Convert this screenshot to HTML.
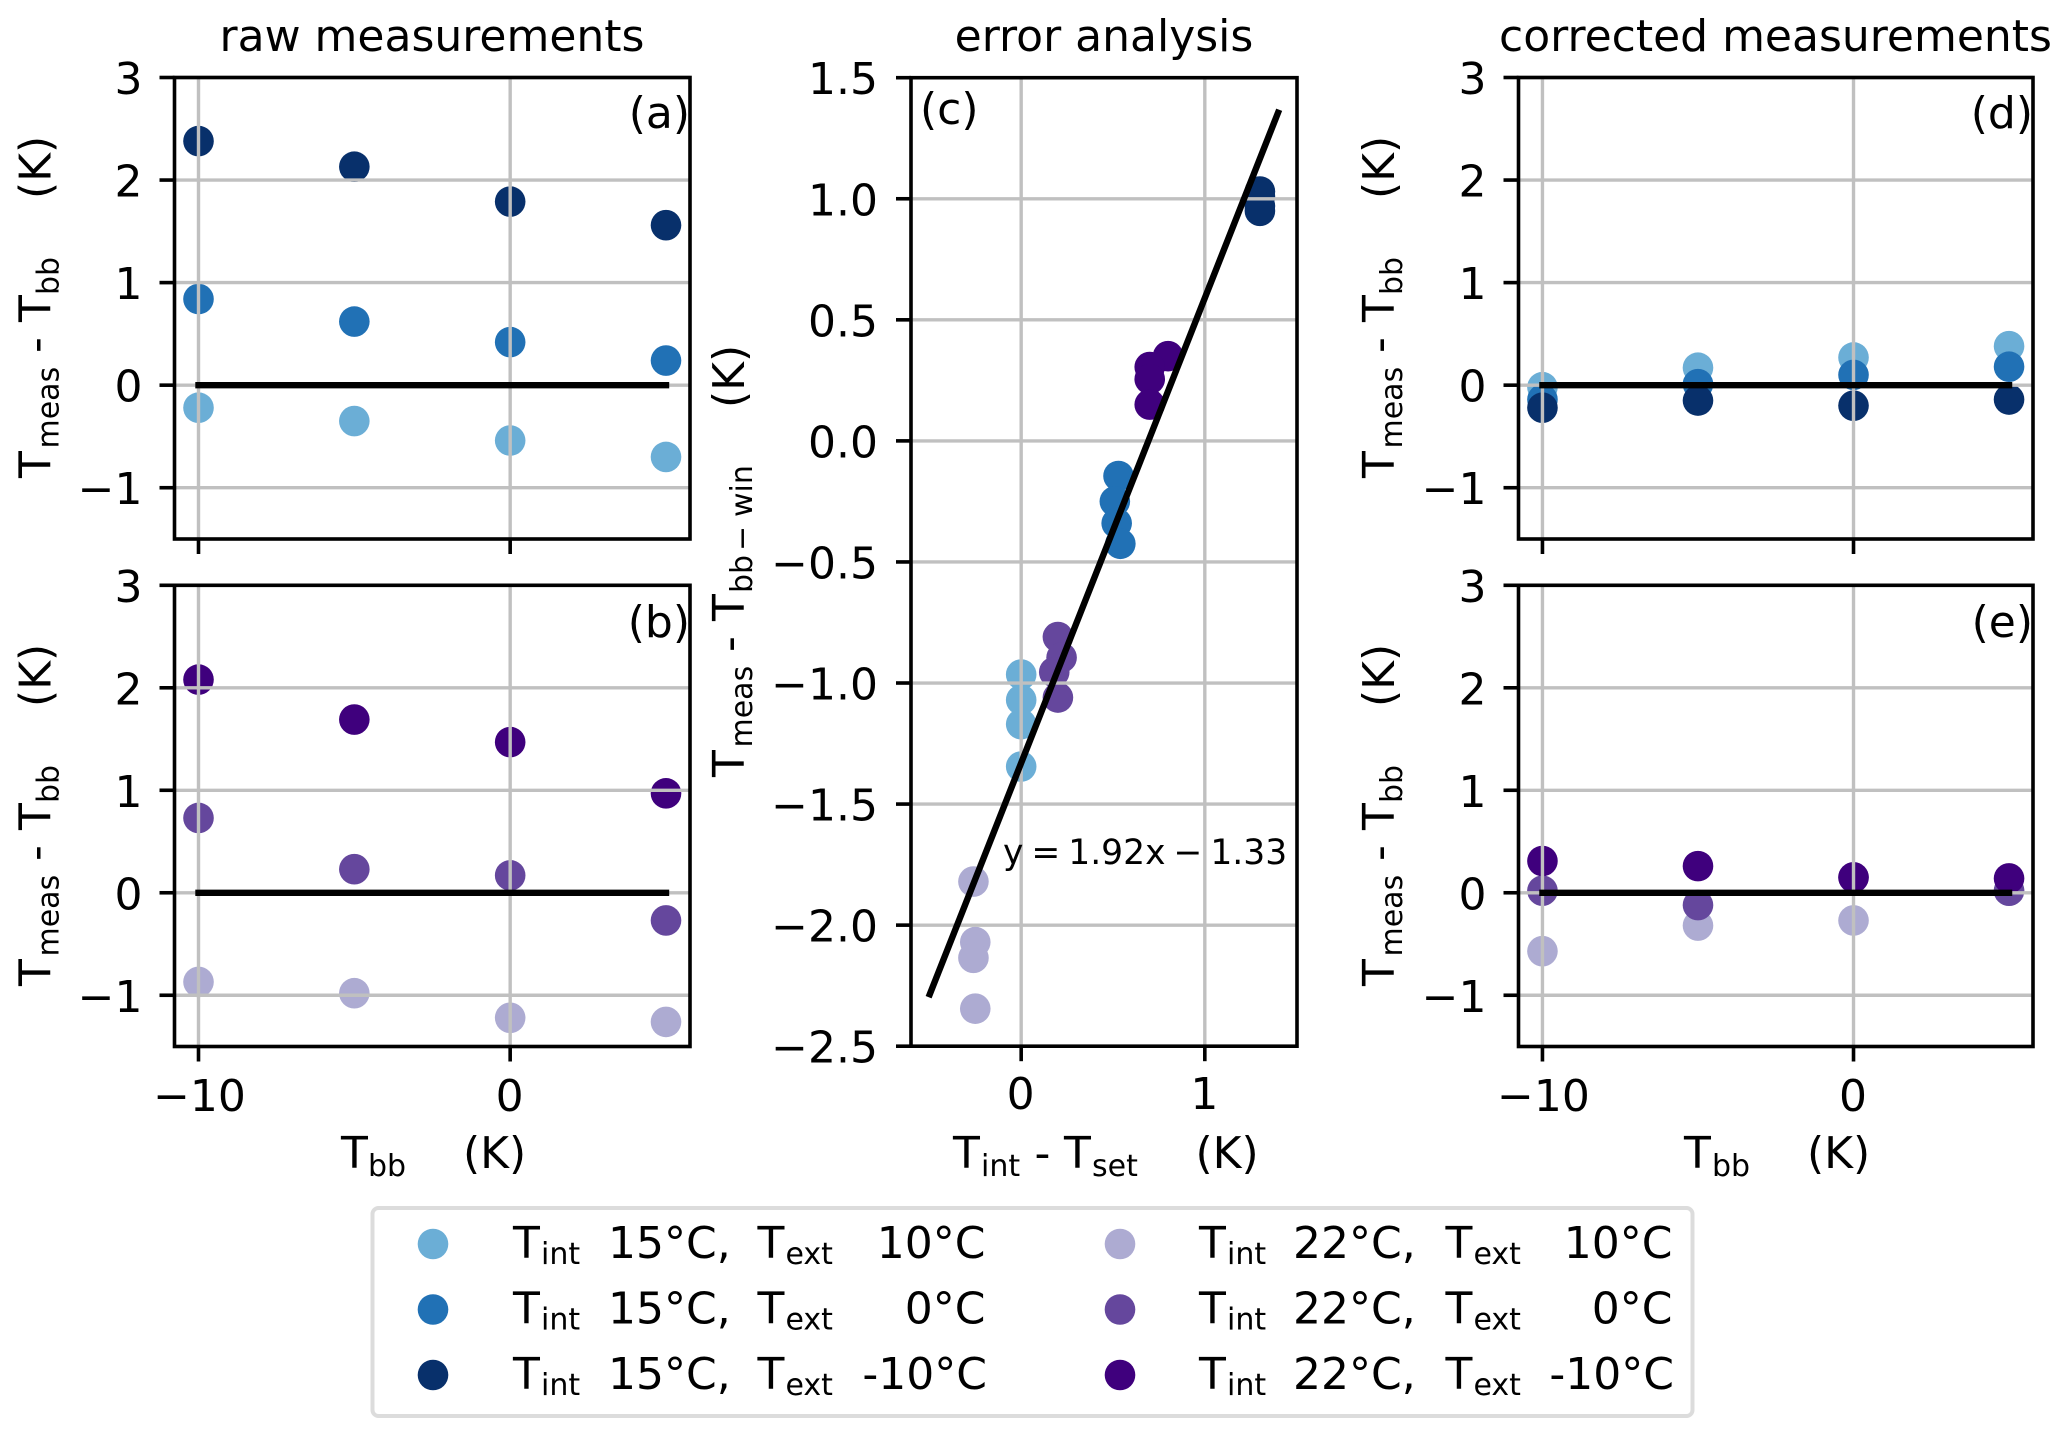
<!DOCTYPE html>
<html lang="en">
<head>
<meta charset="utf-8">
<title>Temperature measurement correction chart</title>
<style>
html,body{margin:0;padding:0;background:#fff;}
svg{display:block;}
text{font-family:"DejaVu Sans","Liberation Sans",sans-serif;font-size:44px;fill:#000;}
.sub{font-size:30px;}
</style>
</head>
<body>
<svg id="chart" xmlns="http://www.w3.org/2000/svg" width="2067" height="1437" viewBox="0 0 2067 1437">
<rect x="0" y="0" width="2067" height="1437" fill="#fff"/>
<g id="plots"></g>

<text x="432" y="51" text-anchor="middle">raw measurements</text>
<text x="1104" y="51" text-anchor="middle">error analysis</text>
<text x="1775.5" y="51" text-anchor="middle">corrected measurements</text>

<text x="690" y="128" text-anchor="end">(a)</text>
<text x="690" y="637" text-anchor="end">(b)</text>
<text x="920" y="124">(c)</text>
<text x="2033" y="128" text-anchor="end">(d)</text>
<text x="2033" y="637" text-anchor="end">(e)</text>

<text transform="translate(50.5,478) rotate(-90)">T<tspan class="sub" x="29.5" y="8">meas</tspan><tspan x="125" y="0">-</tspan><tspan x="156" y="0">T</tspan><tspan class="sub" x="183" y="8">bb</tspan><tspan x="279" y="0">(K)</tspan></text>
<text transform="translate(50.5,986) rotate(-90)">T<tspan class="sub" x="29.5" y="8">meas</tspan><tspan x="125" y="0">-</tspan><tspan x="156" y="0">T</tspan><tspan class="sub" x="183" y="8">bb</tspan><tspan x="279" y="0">(K)</tspan></text>
<text transform="translate(1394,478) rotate(-90)">T<tspan class="sub" x="29.5" y="8">meas</tspan><tspan x="125" y="0">-</tspan><tspan x="156" y="0">T</tspan><tspan class="sub" x="183" y="8">bb</tspan><tspan x="279" y="0">(K)</tspan></text>
<text transform="translate(1394,986) rotate(-90)">T<tspan class="sub" x="29.5" y="8">meas</tspan><tspan x="125" y="0">-</tspan><tspan x="156" y="0">T</tspan><tspan class="sub" x="183" y="8">bb</tspan><tspan x="279" y="0">(K)</tspan></text>
<text transform="translate(744,777) rotate(-90)">T<tspan class="sub" x="29.5" y="8">meas</tspan><tspan x="125" y="0">-</tspan><tspan x="156" y="0">T</tspan><tspan class="sub" x="184" y="8">bb</tspan><tspan class="sub" x="226" y="8">−</tspan><tspan class="sub" x="260" y="8">win</tspan><tspan x="369" y="0">(K)</tspan></text>

<text x="341" y="1168">T<tspan class="sub" x="368" y="1176">bb</tspan><tspan x="463" y="1168">(K)</tspan></text>
<text x="1684" y="1168">T<tspan class="sub" x="1712" y="1176">bb</tspan><tspan x="1807" y="1168">(K)</tspan></text>
<text x="953" y="1168">T<tspan class="sub" x="981" y="1176">int</tspan><tspan x="1034.5" y="1168">-</tspan><tspan x="1064" y="1168">T</tspan><tspan class="sub" x="1092" y="1176">set</tspan><tspan x="1195.5" y="1168">(K)</tspan></text>

<text x="1003" y="864" style="font-size:34.5px;word-spacing:-3px">y = 1.92x − 1.33</text>

<g id="legend">
<rect x="372.5" y="1208" width="1320" height="208" rx="6" ry="6" fill="#fff" stroke="#dcdcdc" stroke-width="4"/>
<g><circle cx="433" cy="1244" r="15.3" fill="#6baed6"/><text x="513" y="1258">T<tspan class="sub" x="541" y="1264">int</tspan><tspan x="608" y="1258">15°C,</tspan><tspan x="757.5" y="1258">T</tspan><tspan class="sub" x="785.5" y="1264">ext</tspan></text><text x="985.5" y="1258" text-anchor="end">10°C</text></g>
<g><circle cx="433" cy="1309.5" r="15.3" fill="#2171b5"/><text x="513" y="1323.5">T<tspan class="sub" x="541" y="1329.5">int</tspan><tspan x="608" y="1323.5">15°C,</tspan><tspan x="757.5" y="1323.5">T</tspan><tspan class="sub" x="785.5" y="1329.5">ext</tspan></text><text x="985.5" y="1323.5" text-anchor="end">0°C</text></g>
<g><circle cx="433" cy="1375" r="15.3" fill="#08306b"/><text x="513" y="1389">T<tspan class="sub" x="541" y="1395">int</tspan><tspan x="608" y="1389">15°C,</tspan><tspan x="757.5" y="1389">T</tspan><tspan class="sub" x="785.5" y="1395">ext</tspan></text><text x="987" y="1389" text-anchor="end">-10°C</text></g>
<g><circle cx="1120" cy="1244" r="15.3" fill="#adabd2"/><text x="1199" y="1258">T<tspan class="sub" x="1227" y="1264">int</tspan><tspan x="1293" y="1258">22°C,</tspan><tspan x="1445.5" y="1258">T</tspan><tspan class="sub" x="1473.5" y="1264">ext</tspan></text><text x="1672.5" y="1258" text-anchor="end">10°C</text></g>
<g><circle cx="1120" cy="1309.5" r="15.3" fill="#65479d"/><text x="1199" y="1323.5">T<tspan class="sub" x="1227" y="1329.5">int</tspan><tspan x="1293" y="1323.5">22°C,</tspan><tspan x="1445.5" y="1323.5">T</tspan><tspan class="sub" x="1473.5" y="1329.5">ext</tspan></text><text x="1672.5" y="1323.5" text-anchor="end">0°C</text></g>
<g><circle cx="1120" cy="1375" r="15.3" fill="#3f007d"/><text x="1199" y="1389">T<tspan class="sub" x="1227" y="1395">int</tspan><tspan x="1293" y="1389">22°C,</tspan><tspan x="1445.5" y="1389">T</tspan><tspan class="sub" x="1473.5" y="1395">ext</tspan></text><text x="1674" y="1389" text-anchor="end">-10°C</text></g>
</g>
</svg>

<script>
// ---- shared categories and tick labels ----
const blackbodyTemps = [-10, -5, 0, 5];
const sideYTicks = [3, 2, 1, 0, -1];
const sideXTicks = [-10, 0];
const errorYTicks = [1.5, 1.0, 0.5, 0.0, -0.5, -1.0, -1.5, -2.0, -2.5];
const errorYTickLabels = ["1.5", "1.0", "0.5", "0.0", "−0.5", "−1.0", "−1.5", "−2.0", "−2.5"];
const errorXTicks = [0, 1];

// ---- panel (a) raw measurements, Tint 15°C ----
const rawInt15Ext10 = [-0.22, -0.35, -0.54, -0.70];
const rawInt15Ext0 = [0.84, 0.62, 0.42, 0.24];
const rawInt15ExtMinus10 = [2.38, 2.13, 1.79, 1.56];

// ---- panel (b) raw measurements, Tint 22°C ----
const rawInt22Ext10 = [-0.87, -0.98, -1.22, -1.26];
const rawInt22Ext0 = [0.73, 0.23, 0.17, -0.27];
const rawInt22ExtMinus10 = [2.08, 1.69, 1.47, 0.97];

// ---- panel (d) corrected measurements, Tint 15°C ----
const corrInt15Ext10 = [-0.02, 0.17, 0.27, 0.38];
const corrInt15Ext0 = [-0.14, 0.01, 0.10, 0.18];
const corrInt15ExtMinus10 = [-0.22, -0.15, -0.20, -0.14];

// ---- panel (e) corrected measurements, Tint 22°C ----
const corrInt22Ext10 = [-0.57, -0.32, -0.27, 0.02];
const corrInt22Ext0 = [0.02, -0.12, 0.15, 0.02];
const corrInt22ExtMinus10 = [0.31, 0.26, 0.15, 0.14];

// ---- panel (c) error analysis ----
const errLightBlueX = [0, 0, 0, 0];
const errLightBlueY = [-0.965, -1.07, -1.17, -1.345];
const errBlueX = [0.53, 0.51, 0.52, 0.54];
const errBlueY = [-0.145, -0.25, -0.34, -0.425];
const errNavyX = [1.3, 1.3, 1.3, 1.3];
const errNavyY = [1.03, 1.01, 0.97, 0.95];
const errLilacX = [-0.26, -0.25, -0.26, -0.25];
const errLilacY = [-1.82, -2.07, -2.135, -2.345];
const errPurpleX = [0.2, 0.22, 0.18, 0.2];
const errPurpleY = [-0.81, -0.895, -0.955, -1.06];
const errIndigoX = [0.8, 0.7, 0.7, 0.7];
const errIndigoY = [0.35, 0.305, 0.255, 0.15];

// ---- regression line ----
const fitSlope = 1.92;
const fitIntercept = -1.33;
const fitRange = [-0.504, 1.405];

// ---- zero reference line ----
const zeroLineRange = [-10, 5];
const zeroLineValue = [0];

const NS = 'http://www.w3.org/2000/svg';
const plots = document.getElementById('plots');

function make(tag, attrs, parent) {
  const el = document.createElementNS(NS, tag);
  for (const k in attrs) el.setAttribute(k, attrs[k]);
  parent.appendChild(el);
  return el;
}

function linearScale(domain, range) {
  return function (v) {
    return range[0] + (v - domain[0]) * (range[1] - range[0]) / (domain[1] - domain[0]);
  };
}

function drawPanel(cfg) {
  const g = make('g', {}, plots);
  
  
  const x = linearScale(cfg.xlim, [cfg.left, cfg.right]);
  const y = linearScale(cfg.ylim, [cfg.bottom, cfg.top]);

  // scatter points (below the grid, as in the reference)
  cfg.series.forEach(function (s) {
    s.ys.forEach(function (val, i) {
      const dot = make('circle', { cx: x(s.xs[i]), cy: y(val), r: 15.3, fill: s.color }, g);
      
      
    });
  });

  // grid + ticks
  cfg.xTicks.forEach(function (t) {
    const px = x(t);
    const grid = make('line', { x1: px, x2: px, y1: cfg.top, y2: cfg.bottom, stroke: '#c0c0c0', 'stroke-width': 3.4 }, g);
    
    
    const tick = make('line', { x1: px, x2: px, y1: cfg.bottom, y2: cfg.bottom + 15, stroke: '#000', 'stroke-width': 3.6 }, g);
    
    
    if (cfg.showXLabels) {
      const label = make('text', { x: px + (t < 0 ? 1 : -0.5), y: cfg.xLabelY, 'text-anchor': 'middle' }, g);
      label.textContent = String(t).replace('-', '−');
      
      
    }
  });
  cfg.yTicks.forEach(function (t, i) {
    const py = y(t);
    const grid = make('line', { x1: cfg.left, x2: cfg.right, y1: py, y2: py, stroke: '#c0c0c0', 'stroke-width': 3.4 }, g);
    
    
    const tick = make('line', { x1: cfg.left - 15, x2: cfg.left, y1: py, y2: py, stroke: '#000', 'stroke-width': 3.6 }, g);
    
    
    const label = make('text', { x: cfg.left - cfg.yLabelGap, y: py + 16.5, 'text-anchor': 'end' }, g);
    label.textContent = cfg.yLabels ? cfg.yLabels[i] : String(t).replace('-', '−');
    
    
  });

  // black reference / fit line
  if (cfg.zeroLine) {
    const zero = make('line', {
      x1: x(zeroLineRange[0]), x2: x(zeroLineRange[1]), y1: y(zeroLineValue[0]), y2: y(zeroLineValue[0]),
      stroke: '#000', 'stroke-width': 6.4, 'stroke-linecap': 'square'
    }, g);
    
    
  }
  if (cfg.fit) {
    const fit = make('line', {
      x1: x(fitRange[0]), x2: x(fitRange[1]),
      y1: y(fitSlope * fitRange[0] + fitIntercept), y2: y(fitSlope * fitRange[1] + fitIntercept),
      stroke: '#000', 'stroke-width': 6.4
    }, g);
    
    
  }

  // frame
  const frame = make('rect', {
    x: cfg.left, y: cfg.top, width: cfg.right - cfg.left, height: cfg.bottom - cfg.top,
    fill: 'none', stroke: '#000', 'stroke-width': 3.6
  }, g);
  
  
}

const COLORS = {
  lightBlue: '#6baed6', blue: '#2171b5', navy: '#08306b',
  lilac: '#adabd2', purple: '#65479d', indigo: '#3f007d'
};

function sideSeries(names, values, colors) {
  return values.map(function (v, i) {
    return { name: names[i], xs: blackbodyTemps, ys: v, color: colors[i] };
  });
}
const seriesNames = ['ext-10', 'ext-0', 'ext-minus-10'];
const blues = [COLORS.lightBlue, COLORS.blue, COLORS.navy];
const violets = [COLORS.lilac, COLORS.purple, COLORS.indigo];
const sideXLim = [-10.77, 5.77];
const sideYLim = [-1.5, 3];

drawPanel({ id: 'a', left: 174.5, right: 690, top: 77.5, bottom: 539, xlim: sideXLim, ylim: sideYLim,
  xTicks: sideXTicks, yTicks: sideYTicks, yLabelGap: 32, zeroLine: true, showXLabels: false,
  series: sideSeries(seriesNames, [rawInt15Ext10, rawInt15Ext0, rawInt15ExtMinus10], blues) });
drawPanel({ id: 'b', left: 174.5, right: 690, top: 585.3, bottom: 1046.5, xlim: sideXLim, ylim: sideYLim,
  xTicks: sideXTicks, yTicks: sideYTicks, yLabelGap: 32, zeroLine: true, showXLabels: true, xLabelY: 1111,
  series: sideSeries(seriesNames, [rawInt22Ext10, rawInt22Ext0, rawInt22ExtMinus10], violets) });
drawPanel({ id: 'd', left: 1518.5, right: 2033, top: 77.5, bottom: 539, xlim: sideXLim, ylim: sideYLim,
  xTicks: sideXTicks, yTicks: sideYTicks, yLabelGap: 32, zeroLine: true, showXLabels: false,
  series: sideSeries(seriesNames, [corrInt15Ext10, corrInt15Ext0, corrInt15ExtMinus10], blues) });
drawPanel({ id: 'e', left: 1518.5, right: 2033, top: 585.3, bottom: 1046.5, xlim: sideXLim, ylim: sideYLim,
  xTicks: sideXTicks, yTicks: sideYTicks, yLabelGap: 32, zeroLine: true, showXLabels: true, xLabelY: 1111,
  series: sideSeries(seriesNames, [corrInt22Ext10, corrInt22Ext0, corrInt22ExtMinus10], violets) });
drawPanel({ id: 'c', left: 911, right: 1297, top: 77.7, bottom: 1046.2, xlim: [-0.6, 1.502], ylim: [-2.5, 1.5],
  xTicks: errorXTicks, yTicks: errorYTicks, yLabels: errorYTickLabels, yLabelGap: 33, fit: true, showXLabels: true, xLabelY: 1109,
  series: [
    { name: 'int15-ext10', xs: errLightBlueX, ys: errLightBlueY, color: COLORS.lightBlue },
    { name: 'int15-ext0', xs: errBlueX, ys: errBlueY, color: COLORS.blue },
    { name: 'int15-extm10', xs: errNavyX, ys: errNavyY, color: COLORS.navy },
    { name: 'int22-ext10', xs: errLilacX, ys: errLilacY, color: COLORS.lilac },
    { name: 'int22-ext0', xs: errPurpleX, ys: errPurpleY, color: COLORS.purple },
    { name: 'int22-extm10', xs: errIndigoX, ys: errIndigoY, color: COLORS.indigo }
  ] });
</script>
</body>
</html>
